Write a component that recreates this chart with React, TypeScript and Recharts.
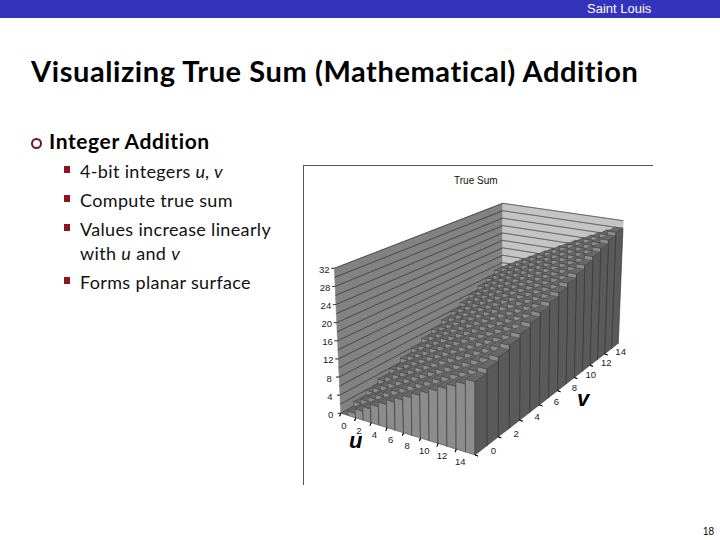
import { Scatter, ScatterChart, XAxis, YAxis } from "recharts";

const uValues = [0, 1, 2, 3, 4, 5, 6, 7, 8, 9, 10, 11, 12, 13, 14, 15];
const vValues = [0, 1, 2, 3, 4, 5, 6, 7, 8, 9, 10, 11, 12, 13, 14, 15];

// true sum, one row per v, one column per u
const sumRows = [
  [0, 1, 2, 3, 4, 5, 6, 7, 8, 9, 10, 11, 12, 13, 14, 15],
  [1, 2, 3, 4, 5, 6, 7, 8, 9, 10, 11, 12, 13, 14, 15, 16],
  [2, 3, 4, 5, 6, 7, 8, 9, 10, 11, 12, 13, 14, 15, 16, 17],
  [3, 4, 5, 6, 7, 8, 9, 10, 11, 12, 13, 14, 15, 16, 17, 18],
  [4, 5, 6, 7, 8, 9, 10, 11, 12, 13, 14, 15, 16, 17, 18, 19],
  [5, 6, 7, 8, 9, 10, 11, 12, 13, 14, 15, 16, 17, 18, 19, 20],
  [6, 7, 8, 9, 10, 11, 12, 13, 14, 15, 16, 17, 18, 19, 20, 21],
  [7, 8, 9, 10, 11, 12, 13, 14, 15, 16, 17, 18, 19, 20, 21, 22],
  [8, 9, 10, 11, 12, 13, 14, 15, 16, 17, 18, 19, 20, 21, 22, 23],
  [9, 10, 11, 12, 13, 14, 15, 16, 17, 18, 19, 20, 21, 22, 23, 24],
  [10, 11, 12, 13, 14, 15, 16, 17, 18, 19, 20, 21, 22, 23, 24, 25],
  [11, 12, 13, 14, 15, 16, 17, 18, 19, 20, 21, 22, 23, 24, 25, 26],
  [12, 13, 14, 15, 16, 17, 18, 19, 20, 21, 22, 23, 24, 25, 26, 27],
  [13, 14, 15, 16, 17, 18, 19, 20, 21, 22, 23, 24, 25, 26, 27, 28],
  [14, 15, 16, 17, 18, 19, 20, 21, 22, 23, 24, 25, 26, 27, 28, 29],
  [15, 16, 17, 18, 19, 20, 21, 22, 23, 24, 25, 26, 27, 28, 29, 30],
];

const gridValues = [0, 2, 4, 6, 8, 10, 12, 14, 16, 18, 20, 22, 24, 26, 28, 30, 32];
const zTicks = [0, 4, 8, 12, 16, 20, 24, 28, 32];
const axisTicks = [0, 2, 4, 6, 8, 10, 12, 14];

const bulletLines = [
  { text: ["4-bit integers ", "u, v"], top: 160, marker: true },
  { text: ["Compute true sum"], top: 189, marker: true },
  { text: ["Values increase linearly"], top: 218, marker: true },
  { text: ["with ", "u", " and ", "v"], top: 242, marker: false },
  { text: ["Forms planar surface"], top: 271, marker: true },
];

type Pt = [number, number];

// corners of the box on the page: [u=0 v=0, u=16 v=0, u=16 v=16, u=0 v=16]
const floorQuad: Pt[] = [[340.7, 413.3], [475, 455], [618.3, 343.3], [502.5, 322]];
const roofQuad: Pt[] = [[334.3, 268.3], [475, 298.6], [623.3, 220.7], [502.7, 203.3]];

function squareToQuad(q: Pt[]) {
  const [[x0, y0], [x1, y1], [x2, y2], [x3, y3]] = q;
  const dx1 = x1 - x2, dx2 = x3 - x2, sx = x0 - x1 + x2 - x3;
  const dy1 = y1 - y2, dy2 = y3 - y2, sy = y0 - y1 + y2 - y3;
  const det = dx1 * dy2 - dx2 * dy1;
  const g = (sx * dy2 - dx2 * sy) / det;
  const h = (dx1 * sy - sx * dy1) / det;
  const a = x1 - x0 + g * x1, b = x3 - x0 + h * x3;
  const d = y1 - y0 + g * y1, e = y3 - y0 + h * y3;
  return (s: number, t: number): Pt => {
    const w = g * s + h * t + 1;
    return [(a * s + b * t + x0) / w, (d * s + e * t + y0) / w];
  };
}

const floorAt = squareToQuad(floorQuad);
const roofAt = squareToQuad(roofQuad);

function project(u: number, v: number, z: number): Pt {
  const f = floorAt(u / 16, v / 16);
  const r = roofAt(u / 16, v / 16);
  return [f[0] + ((r[0] - f[0]) * z) / 32, f[1] + ((r[1] - f[1]) * z) / 32];
}

type Mark = {
  x: number;
  y: number;
  pts?: Pt[];
  fill?: string;
  stroke?: string;
  sw?: number;
  label?: string;
};

function poly(pts: Pt[], fill: string, stroke: string, sw: number): Mark {
  return { x: pts[0][0], y: pts[0][1], pts, fill, stroke, sw };
}

function line(a: Pt, b: Pt, stroke: string, sw: number): Mark {
  return { x: a[0], y: a[1], pts: [a, b], fill: "none", stroke, sw };
}

function text(p: Pt, label: string): Mark {
  return { x: p[0], y: p[1], label };
}

function buildMarks() {
  const marks: Mark[] = [];
  // back walls
  marks.push(poly([project(0, 0, 0), project(0, 16, 0), project(0, 16, 32), project(0, 0, 32)], "#828282", "#828282", 0.5));
  marks.push(poly([project(0, 16, 0), project(16, 16, 0), project(16, 16, 32), project(0, 16, 32)], "#c4c4c4", "#c4c4c4", 0.5));
  gridValues.forEach((z) => {
    marks.push(line(project(0, 0, z), project(0, 16, z), "#3c3c3c", 0.5));
    marks.push(line(project(0, 16, z), project(16, 16, z), "#4a4a4a", 0.5));
  });
  // columns, far ones first
  [...vValues].reverse().forEach((v) => {
    uValues.forEach((u) => {
      const h = sumRows[v][u];
      const u1 = u + 1;
      const v1 = v + 1;
      if (h > 0) {
        marks.push(poly([project(u, v, 0), project(u1, v, 0), project(u1, v, h), project(u, v, h)], "#8c8c8c", "#3f3f3f", 0.5));
        marks.push(poly([project(u1, v, 0), project(u1, v1, 0), project(u1, v1, h), project(u1, v, h)], "#5a5a5a", "#2e2e2e", 0.5));
      }
      marks.push(poly([project(u, v, h), project(u1, v, h), project(u1, v1, h), project(u, v1, h)], "#686868", "#444444", 0.5));
    });
  });
  // axis ticks and labels
  axisTicks.forEach((t) => {
    const a = project(t, 0, 0);
    marks.push(line(a, [a[0] - 1, a[1] + 3], "#111111", 1));
    const c = project(t + 0.5, 0, 0);
    marks.push(text([c[0] - 0.5, c[1] + 11], String(t)));
    const b = project(16, t, 0);
    marks.push(line(b, [b[0] + 3, b[1] + 1], "#111111", 1));
    const d = project(16, t + 0.5, 0);
    marks.push(text([d[0] + 12.5, d[1] + 0.5], String(t)));
  });
  zTicks.forEach((z) => {
    const p = project(0, 0, z);
    marks.push(line(p, [p[0] - 3, p[1]], "#333333", 0.7));
    marks.push(text([p[0] - 10, p[1] + 1], String(z)));
  });
  return marks;
}

const marks = buildMarks();

function MarkShape(props: any) {
  const { cx, cy, payload } = props;
  const m: Mark = payload;
  if (m.label !== undefined) {
    return (
      <text
        x={cx}
        y={cy}
        textAnchor="middle"
        dominantBaseline="central"
        fontFamily="'Liberation Sans', Arial, sans-serif"
        fontSize={9.5}
        fill="#1a1a1a"
      >
        {m.label}
      </text>
    );
  }
  // the domain runs 1:1 with the plot, so data offsets are pixel offsets
  const points = (m.pts as Pt[]).map((p) => `${cx + p[0] - m.x},${cy + p[1] - m.y}`).join(" ");
  return <polygon points={points} fill={m.fill} stroke={m.stroke} strokeWidth={m.sw} strokeLinejoin="round" />;
}

const slideFont = "Lato, 'Open Sans', sans-serif";
const chartFont = "'Liberation Sans', Arial, sans-serif";

export default function App() {
  return (
    <div style={{ position: "absolute", left: 0, top: 0, width: 720, height: 540, background: "#fff", overflow: "hidden" }}>
      <div style={{ position: "absolute", left: 0, top: 0, width: 720, height: 18, background: "#3333bb" }} />
      <div style={{ position: "absolute", left: 587, top: 1, fontFamily: chartFont, fontSize: 13, color: "#fff" }}>Saint Louis</div>
      <div style={{ position: "absolute", left: 31, top: 53, fontFamily: slideFont, fontWeight: 700, fontSize: 29, letterSpacing: 0.57, color: "#000", whiteSpace: "nowrap" }}>
        Visualizing True Sum (Mathematical) Addition
      </div>
      <div style={{ position: "absolute", left: 31, top: 138, width: 7, height: 7, border: "2px solid #7a1222", borderRadius: "50%" }} />
      <div style={{ position: "absolute", left: 49, top: 128, fontFamily: slideFont, fontWeight: 700, fontSize: 21, letterSpacing: 0.6, color: "#000", whiteSpace: "nowrap" }}>
        Integer Addition
      </div>
      {bulletLines.map((b) => (
        <div key={b.top}>
          {b.marker && <div style={{ position: "absolute", left: 64, top: b.top + 6, width: 6, height: 7, background: "#8f1420" }} />}
          <div style={{ position: "absolute", left: 80, top: b.top, fontFamily: slideFont, fontSize: 18, letterSpacing: 0.35, color: "#111", whiteSpace: "nowrap" }}>
            {b.text.map((t, i) => (
              <span key={i} style={{ fontStyle: t === "u" || t === "v" || t === "u, v" ? "italic" : "normal" }}>
                {t}
              </span>
            ))}
          </div>
        </div>
      ))}
      <div style={{ position: "absolute", left: 303, top: 165, width: 349, height: 319, borderTop: "1px solid #555", borderLeft: "1px solid #555" }} />
      <div style={{ position: "absolute", left: 454, top: 175, fontFamily: chartFont, fontSize: 10, color: "#111" }}>True Sum</div>
      <div style={{ position: "absolute", left: 0, top: 0 }}>
        <ScatterChart width={720} height={540} margin={{ top: 0, right: 0, bottom: 0, left: 0 }}>
          <XAxis type="number" dataKey="x" domain={[0, 720]} hide />
          <YAxis type="number" dataKey="y" domain={[0, 540]} reversed hide />
          <Scatter data={marks} shape={MarkShape} isAnimationActive={false} />
        </ScatterChart>
      </div>
      <div style={{ position: "absolute", left: 349, top: 437, lineHeight: "8px", fontFamily: chartFont, fontWeight: 700, fontStyle: "italic", fontSize: 22, color: "#000" }}>u</div>
      <div style={{ position: "absolute", left: 577, top: 395, lineHeight: "8px", fontFamily: chartFont, fontWeight: 700, fontStyle: "italic", fontSize: 22, color: "#000" }}>v</div>
      <div style={{ position: "absolute", left: 703, top: 526, fontFamily: chartFont, fontSize: 10, color: "#000" }}>18</div>
    </div>
  );
}
